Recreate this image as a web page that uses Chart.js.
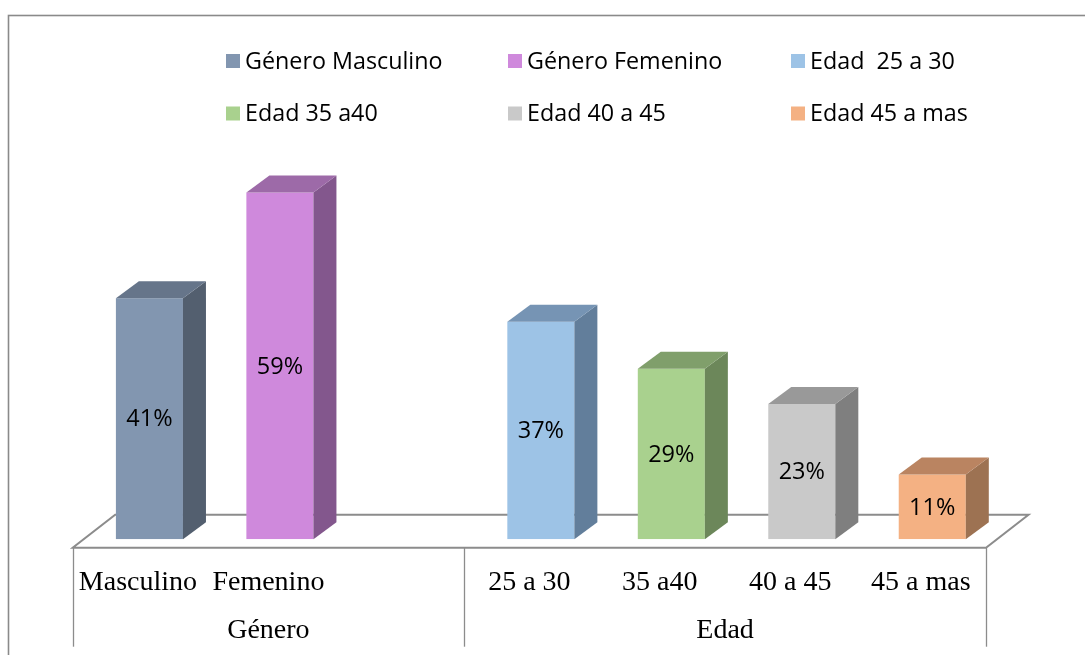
<!DOCTYPE html>
<html lang="es">
<head>
<meta charset="utf-8">
<title>Género y Edad</title>
<script src="https://cdn.jsdelivr.net/npm/chart.js@4.4.1/dist/chart.umd.min.js"></script>
<style>
  html, body { margin: 0; padding: 0; background: #ffffff; }
  #wrap { width: 1085px; height: 655px; }
</style>
</head>
<body>
<div id="wrap"><canvas id="chart" width="1085" height="655"></canvas></div>
<script>
// Lower-level categories on the horizontal axis (the blank one separates the groups)
const categories = ['Masculino', 'Femenino', '', '25 a 30', '35 a40', '40 a 45', '45 a mas'];

// Upper-level groups: label, first and last category index
const groupLabels = ['Género', 'Edad'];
const groupStarts = [0, 3];
const groupEnds = [2, 6];

// One series per column
const seriesNames = ['Género Masculino', 'Género Femenino', 'Edad  25 a 30', 'Edad 35 a40', 'Edad 40 a 45', 'Edad 45 a mas'];
const seriesCategory = ['Masculino', 'Femenino', '25 a 30', '35 a40', '40 a 45', '45 a mas'];
const seriesValues = [41, 59, 37, 29, 23, 11];

// Face colours of each column: front, right side, top
const frontColors = ['#8296B0', '#CF89DC', '#9DC3E6', '#A9D18E', '#C9C9C9', '#F4B183'];
const sideColors  = ['#535F6F', '#83578D', '#627E9B', '#6C875A', '#7F7F7F', '#9D7252'];
const topColors   = ['#66758A', '#9D6AA8', '#7694B4', '#809F6B', '#999999', '#BA8461'];

// Perspective offsets
const BAR_DX = 23, BAR_DY = -17;          // depth of a column
const FLOOR_DX = 42.5, FLOOR_DY = -33;    // depth of the floor
const FLOOR_SHIFT_X = -11.5, FLOOR_SHIFT_Y = 8.4; // floor front edge relative to column fronts

const SANS = '"Open Sans", "Noto Sans", sans-serif';
const SERIF = '"Liberation Serif", "Times New Roman", serif';
const LINE = '#8c8c8c';

const datasets = seriesNames.map((name, k) => ({
  label: name,
  data: categories.map(c => (c === seriesCategory[k] ? seriesValues[k] : null)),
  backgroundColor: frontColors[k],
  borderWidth: 0,
  grouped: false,
  barPercentage: 0.514,
  categoryPercentage: 1
}));

const box3d = {
  id: 'box3d',
  beforeDraw(chart) {
    const ctx = chart.ctx;
    ctx.save();
    ctx.fillStyle = '#ffffff';
    ctx.fillRect(0, 0, chart.width, chart.height);
    // outer chart border
    ctx.strokeStyle = '#8a8a8a';
    ctx.lineWidth = 1.6;
    ctx.strokeRect(8.5, 15.5, chart.width + 20, chart.height + 20);
    ctx.restore();
  },
  beforeDatasetsDraw(chart) {
    const ctx = chart.ctx;
    const xs = chart.scales.x, ys = chart.scales.y;
    const base = ys.getPixelForValue(0);
    const catW = (xs.right - xs.left) / categories.length;
    const fy = base + FLOOR_SHIFT_Y;
    const fl = xs.left + FLOOR_SHIFT_X;
    const fr = xs.right + FLOOR_SHIFT_X;
    ctx.save();
    // floor
    ctx.strokeStyle = LINE;
    ctx.lineWidth = 2;
    ctx.lineJoin = 'miter';
    ctx.beginPath();
    ctx.moveTo(fl, fy);
    ctx.lineTo(fr, fy);
    ctx.lineTo(fr + FLOOR_DX, fy + FLOOR_DY);
    ctx.lineTo(fl + FLOOR_DX, fy + FLOOR_DY);
    ctx.closePath();
    ctx.stroke();
    // group dividers below the floor
    ctx.lineWidth = 1.3;
    const bounds = [groupStarts[0]].concat(groupEnds.map(e => e + 1));
    bounds.forEach(b => {
      const x = Math.round(fl + b * catW) + 0.5;
      ctx.beginPath();
      ctx.moveTo(x, fy);
      ctx.lineTo(x, fy + 99);
      ctx.stroke();
    });
    // category labels
    ctx.fillStyle = '#000000';
    ctx.font = '28px ' + SERIF;
    ctx.textAlign = 'center';
    ctx.textBaseline = 'middle';
    categories.forEach((c, i) => {
      if (!c) return;
      ctx.fillText(c, xs.getPixelForValue(i) + FLOOR_SHIFT_X, fy + 35);
    });
    // group labels
    groupLabels.forEach((g, k) => {
      const x0 = fl + groupStarts[k] * catW;
      const x1 = fl + (groupEnds[k] + 1) * catW;
      ctx.fillText(g, (x0 + x1) / 2, fy + 83);
    });
    // legend, two rows of three
    ctx.font = '23.3px ' + SANS;
    ctx.textAlign = 'left';
    const colX = [226, 508, 791];
    const rowY = [61, 113.5];
    seriesNames.forEach((name, k) => {
      const x = colX[k % 3], y = rowY[Math.floor(k / 3)];
      ctx.fillStyle = frontColors[k];
      ctx.fillRect(x, y - 7, 14, 14);
      ctx.fillStyle = '#000000';
      ctx.fillText(name, x + 19, y + 1);
    });
    ctx.restore();
  },
  afterDatasetsDraw(chart) {
    const ctx = chart.ctx;
    ctx.save();
    chart.data.datasets.forEach((ds, k) => {
      const meta = chart.getDatasetMeta(k);
      meta.data.forEach((el, i) => {
        const v = ds.data[i];
        if (v === null || v === undefined) return;
        const p = el.getProps(['x', 'y', 'base', 'width'], true);
        const xl = p.x - p.width / 2, xr = p.x + p.width / 2;
        // right side
        ctx.fillStyle = sideColors[k];
        ctx.beginPath();
        ctx.moveTo(xr, p.y);
        ctx.lineTo(xr + BAR_DX, p.y + BAR_DY);
        ctx.lineTo(xr + BAR_DX, p.base + BAR_DY);
        ctx.lineTo(xr, p.base);
        ctx.closePath();
        ctx.fill();
        // top
        ctx.fillStyle = topColors[k];
        ctx.beginPath();
        ctx.moveTo(xl, p.y);
        ctx.lineTo(xl + BAR_DX, p.y + BAR_DY);
        ctx.lineTo(xr + BAR_DX, p.y + BAR_DY);
        ctx.lineTo(xr, p.y);
        ctx.closePath();
        ctx.fill();
        // value label
        ctx.fillStyle = '#000000';
        ctx.font = '23.5px ' + SANS;
        ctx.textAlign = 'center';
        ctx.textBaseline = 'middle';
        ctx.fillText(v + '%', p.x, (p.y + p.base) / 2 + 1);
      });
    });
    ctx.restore();
  }
};

new Chart(document.getElementById('chart'), {
  type: 'bar',
  data: { labels: categories, datasets },
  options: {
    responsive: false,
    devicePixelRatio: 1,
    animation: false,
    layout: { padding: { left: 84.2, right: 87.5, top: 127.7, bottom: 115.7 } },
    plugins: { legend: { display: false }, tooltip: { enabled: false } },
    scales: {
      x: { display: false, offset: true, grid: { display: false } },
      y: { display: false, min: 0, max: 70, grid: { display: false } }
    }
  },
  plugins: [box3d]
});
</script>
</body>
</html>
